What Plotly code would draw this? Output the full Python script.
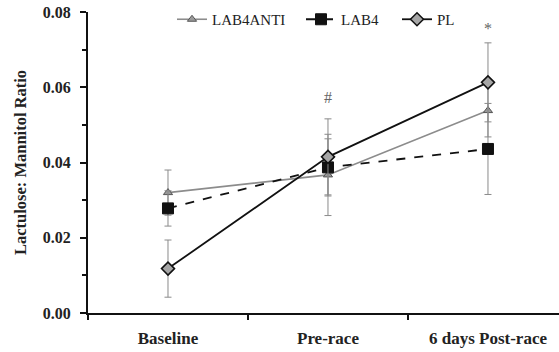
import plotly.graph_objects as go

# Time points and group means with their error margins
timepoints = ["Baseline", "Pre-race", "6 days Post-race"]

lab4anti_mean = [0.0320, 0.0367, 0.0538]
lab4anti_err = [0.0060, 0.0108, 0.0070]

lab4_mean = [0.0278, 0.0387, 0.0436]
lab4_err = [0.0047, 0.0076, 0.0121]

pl_mean = [0.0118, 0.0415, 0.0613]
pl_err = [0.0076, 0.0101, 0.0105]

# Significance marks above the time points
sig_labels = ["#", "*"]
sig_x = ["Pre-race", "6 days Post-race"]
sig_y = [0.0572, 0.0755]

FONT = "Liberation Serif"
ERR_COLOR = "#8a8a8a"
W, H = 559, 352

fig = go.Figure()

fig.add_trace(go.Scatter(
    x=timepoints, y=lab4anti_mean, name="LAB4ANTI", mode="lines+markers",
    legend="legend",
    line=dict(color="#8c8c8c", width=1.6),
    marker=dict(symbol="triangle-up", size=8, color="#9a9a9a",
                line=dict(color="#555555", width=1)),
    error_y=dict(type="data", array=lab4anti_err, color=ERR_COLOR,
                 thickness=1, width=3.5),
))

fig.add_trace(go.Scatter(
    x=timepoints, y=lab4_mean, name="LAB4", mode="lines+markers",
    legend="legend2",
    line=dict(color="#111111", width=1.8, dash="dash"),
    marker=dict(symbol="square", size=11, color="#111111",
                line=dict(color="#111111", width=1)),
    error_y=dict(type="data", array=lab4_err, color=ERR_COLOR,
                 thickness=1, width=3.5),
))

fig.add_trace(go.Scatter(
    x=timepoints, y=pl_mean, name="PL", mode="lines+markers",
    legend="legend3",
    line=dict(color="#111111", width=1.8),
    marker=dict(symbol="diamond", size=10, color="#a6a6a6",
                line=dict(color="#111111", width=1.5)),
    error_y=dict(type="data", array=pl_err, color=ERR_COLOR,
                 thickness=1, width=3.5),
))

for lab, xv, yv in zip(sig_labels, sig_x, sig_y):
    fig.add_annotation(x=xv, y=yv, text=lab, showarrow=False,
                       font=dict(family=FONT, size=16, color="#666666"))


def legend_box(px):
    return dict(orientation="h", xref="container", x=px / W, xanchor="left",
                yref="container", y=1 - 3 / H, yanchor="top",
                font=dict(family=FONT, size=15, color="#222222"),
                bgcolor="rgba(0,0,0,0)", itemwidth=30)


fig.update_layout(
    width=W, height=H,
    margin=dict(l=88, r=0, t=12, b=39, autoexpand=False),
    paper_bgcolor="white", plot_bgcolor="white",
    font=dict(family=FONT, color="#111111"),
    showlegend=True,
    legend=legend_box(172),
    legend2=legend_box(301),
    legend3=legend_box(397),
)

fig.update_xaxes(
    type="category", range=[-0.5, 2.444],
    showline=True, linecolor="#111111", linewidth=2,
    ticks="outside", tickson="boundaries", ticklen=5, tickcolor="#111111",
    tickwidth=1.5, showgrid=False, zeroline=False,
    tickfont=dict(family=FONT, size=17, color="#222222"),
    tickprefix="<b>", ticksuffix="</b>",
    ticklabelstandoff=9,
)

fig.update_yaxes(
    range=[0, 0.08], dtick=0.02, tickformat=".2f",
    showline=True, linecolor="#111111", linewidth=2,
    ticks="outside", ticklen=6, tickcolor="#111111", tickwidth=1.5,
    minor=dict(dtick=0.01, ticks="outside", ticklen=4, tickcolor="#111111",
               tickwidth=1.5),
    showgrid=False, zeroline=False,
    tickfont=dict(family=FONT, size=16, color="#222222"),
    tickprefix="<b>", ticksuffix="</b>",
    ticklabelstandoff=6,
    title=dict(text="<b>Lactulose: Mannitol Ratio</b>", standoff=12,
               font=dict(family=FONT, size=16.5, color="#222222")),
)

fig.write_html("out.html")
